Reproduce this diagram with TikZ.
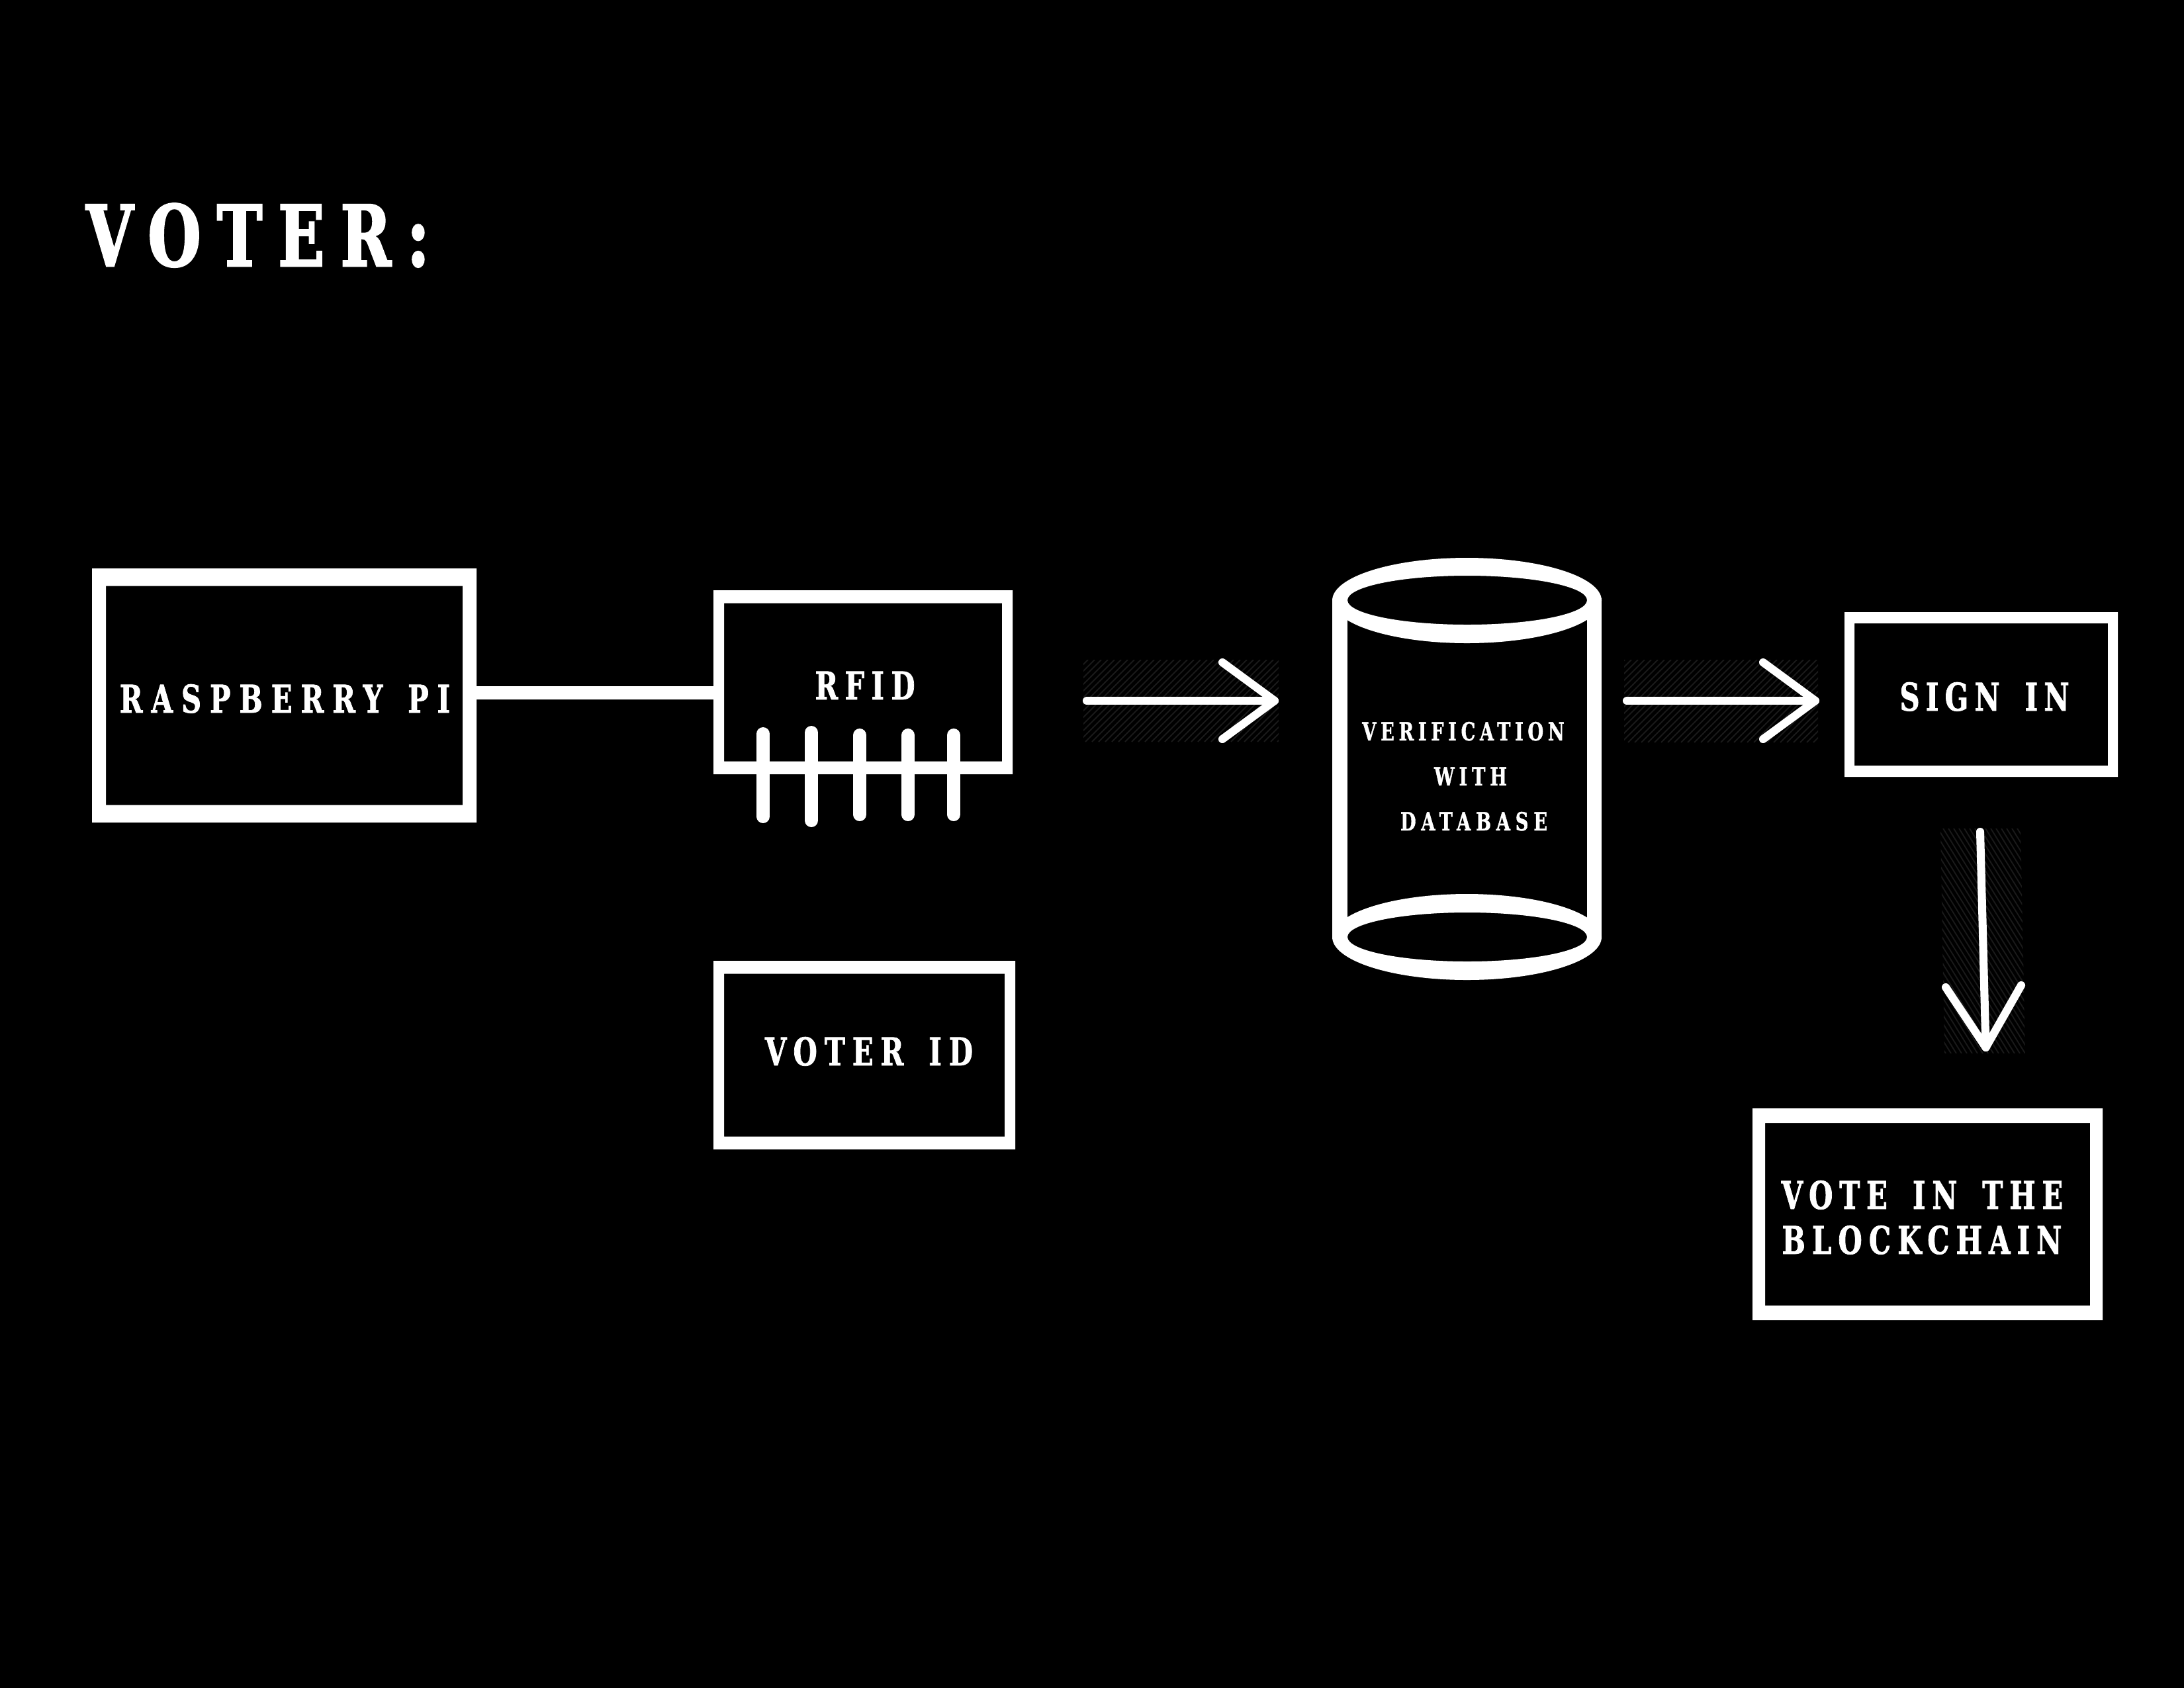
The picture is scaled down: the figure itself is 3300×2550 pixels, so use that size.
\documentclass[tikz,border=0pt]{standalone}
\usepackage{fontspec}
\newfontfamily\slab{DejaVu Serif Condensed}[BoldFont=* Bold]
\newlength\pxu
\setlength\pxu{0.24pt}
\newcommand\placed[3]{\makebox[0pt][c]{\kern 2\dimexpr#1\pxu\relax\smash{\raisebox{-#2\pxu}{#3}}}}
\newcommand\fsmain[1]{\fontsize{13.9}{16}\selectfont\slab\bfseries\addfontfeature{FakeStretch=0.8,FakeBold=1.3,LetterSpace=#1}\spaceskip=38\pxu\relax}
\newcommand\fssmall[1]{\fontsize{9.1}{11}\selectfont\slab\bfseries\addfontfeature{FakeStretch=0.8,FakeBold=1,LetterSpace=#1}}
\newcommand\fstitle[1]{\fontsize{30.6}{36}\selectfont\slab\bfseries\addfontfeature{FakeStretch=0.8,FakeBold=2,LetterSpace=#1}}
\newcommand\ring[3]{\fill[white,even odd rule] (#1.south west) rectangle (#1.north east)
  ([shift={(#2,-#3)}]#1.south west) rectangle ([shift={(-#2,#3)}]#1.north east);}
\definecolor{hatchgrey}{HTML}{1A1A1A}
\tikzset{
  boxnode/.style={draw=none,inner sep=0pt,outer sep=0pt,text=white},
  wire/.style={draw=white,line width=4.8pt},
  pin/.style={draw=white,line width=4.8pt,line cap=round},
  flow/.style={draw=white,line width=2.9pt,line cap=round,line join=round},
  hatchline/.style={draw=hatchgrey,line width=0.45pt},
}
\begin{document}
\begin{tikzpicture}[x=0.24pt,y=-0.24pt]
\useasboundingbox (0,0) rectangle (3300,2550);
\fill[black] (-20,-20) rectangle (3320,2570);

% title
\node[boxnode] (title) at (385.5,355) {\placed{4}{47}{\fstitle{19}VOTER:}};

% boxes
\node[boxnode,minimum width=139.44pt,minimum height=92.16pt] (pi) at (429.5,1051)
  {\placed{1}{26}{\fsmain{22.5}RASPBERRY PI}};
\node[boxnode,minimum width=108.48pt,minimum height=66.72pt] (rfid) at (1304,1031)
  {\placed{3}{26}{\fsmain{18}RFID}};
\node[boxnode,minimum width=109.44pt,minimum height=68.4pt] (vid) at (1306,1594.5)
  {\placed{7}{15.5}{\fsmain{19}VOTER ID}};
\node[boxnode,minimum width=99.12pt,minimum height=59.76pt] (sign) at (2993.5,1049.5)
  {\placed{5}{24.5}{\fsmain{16}SIGN IN}};
\node[boxnode,minimum width=126.96pt,minimum height=76.8pt] (vote) at (2912.5,1835)
  {\placed{-8}{-8}{\fsmain{17}VOTE IN THE}\placed{-8.5}{60}{\fsmain{17.5}BLOCKCHAIN}};
\node[boxnode,minimum width=97.68pt,minimum height=153.12pt] (db) at (2216.5,1162)
  {\placed{-5.5}{-43}{\fssmall{17.5}VERIFICATION}\placed{5.5}{25}{\fssmall{18}WITH}\placed{10.5}{93}{\fssmall{20.5}DATABASE}};

\ring{pi}{21}{26.5}
\ring{rfid}{16}{19.5}
\ring{vid}{16}{19.5}
\ring{sign}{15}{17}
\ring{vote}{19}{22}

% cylinder
\fill[white,even odd rule] (2216.5,907.5) ellipse [x radius=203.5,y radius=64.5]
  (2217,907) ellipse [x radius=181,y radius=37];
\fill[white,even odd rule] (2216.5,1416) ellipse [x radius=203.5,y radius=65]
  (2217,1416) ellipse [x radius=181,y radius=37];
\fill[white] (2013,907) rectangle (2036,1416);
\fill[white] (2398,907) rectangle (2420,1416);

% wire raspberry -- rfid
\draw[wire] ([yshift=0.96pt]pi.east) -- ([yshift=-3.84pt]rfid.west);

% pins
\foreach \n/\x/\a/\b in {1/1153/1109/1234,2/1226/1107/1240,3/1299/1111/1231,4/1372/1111/1231,5/1441/1111/1231}{
  \coordinate (p\n a) at (\x,\a);
  \coordinate (p\n b) at (\x,\b);
  \draw[pin] (p\n a) -- (p\n b);
}

% hatch backgrounds
\begin{scope}
  \clip (1637,997) rectangle (1932,1121);
  \foreach \x in {1510,1520,...,1940} \draw[hatchline] (\x,1121) -- ++(124,-124);
\end{scope}
\begin{scope}
  \clip (2454,997) rectangle (2747,1122);
  \foreach \x in {2330,2340,...,2750} \draw[hatchline] (\x,1122) -- ++(125,-125);
\end{scope}
\begin{scope}
  \clip (2932,1252) -- (3053,1252) -- (3060,1592) -- (2938,1592) -- cycle;
  \foreach \x in {2720,2728,...,3064} \draw[hatchline] (\x,1252) -- ++(212,340);
\end{scope}

% arrows
\coordinate (a1s) at (1642,1059);
\coordinate (a1e) at (1926,1059);
\coordinate (a1u) at (1847,1001);
\coordinate (a1l) at (1847,1117);
\draw[flow] (a1s) -- (a1e);
\draw[flow] (a1u) -- (a1e) -- (a1l);
\coordinate (a2s) at (2458,1059);
\coordinate (a2e) at (2743,1059);
\coordinate (a2u) at (2664,1001);
\coordinate (a2l) at (2664,1117);
\draw[flow] (a2s) -- (a2e);
\draw[flow] (a2u) -- (a2e) -- (a2l);
\coordinate (a3s) at (2992,1257);
\coordinate (a3e) at (3000.5,1583);
\coordinate (a3u) at (2940,1492);
\coordinate (a3l) at (3054,1489);
\draw[flow] (a3s) -- (a3e);
\draw[flow] (a3u) -- (a3e) -- (a3l);
\end{tikzpicture}
\end{document}
